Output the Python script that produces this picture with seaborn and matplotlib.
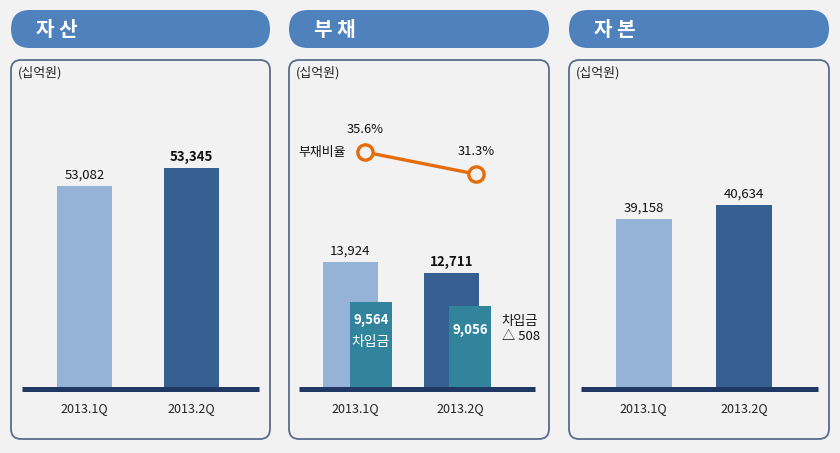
import matplotlib
matplotlib.use("Agg")
import matplotlib.pyplot as plt
from matplotlib.patches import FancyBboxPatch
import seaborn as sns

plt.rcParams['font.family'] = ['Noto Sans CJK KR', 'DejaVu Sans']

# ---------------- data ----------------
quarters = ["2013.1Q", "2013.2Q"]
assets = [53082, 53345]
debt = [13924, 12711]
borrowings = [9564, 9056]
debt_ratio = [35.6, 31.3]
equity = [39158, 40634]
titles = ["자 산", "부 채", "자 본"]
unit = "(십억원)"
ratio_name = "부채비율"
borrow_name = "차입금"

# ---------------- styles ----------------
BG = "#f2f2f2"
LIGHT = "#95b3d7"
DARK = "#366092"
TEAL = "#31849b"
BASE = "#1f3864"
HEAD = "#4f81bd"
BORDER = "#5b6b8c"
ORANGE = "#e46c0a"

W, H = 840, 453
fig = plt.figure(figsize=(W / 100, H / 100), dpi=100, facecolor=BG)

bg = fig.add_axes([0, 0, 1, 1], zorder=0)
bg.set_xlim(0, W)
bg.set_ylim(H, 0)
bg.axis("off")
bg.set_facecolor(BG)

panels = [(11, 270), (289, 549), (569, 829)]
for (l, r), t in zip(panels, titles):
    bg.add_patch(FancyBboxPatch((l, 10), r - l, 38,
                                boxstyle="round,pad=0,rounding_size=19",
                                fc=HEAD, ec="none"))
    bg.text(l + 25, 29.5, t, color="white", fontsize=14.5, fontweight="bold",
            ha="left", va="center")
    bg.add_patch(FancyBboxPatch((l, 60), r - l, 379,
                                boxstyle="round,pad=0,rounding_size=10",
                                fc=BG, ec=BORDER, lw=1.3))
    bg.text(l + 7, 73, unit, fontsize=9.3, ha="left", va="center", color="#222222")


def px(l, t, r, b):
    return [l / W, 1 - b / H, (r - l) / W, (b - t) / H]


def clean(ax):
    ax.set_facecolor("none")
    for s in ax.spines.values():
        s.set_visible(False)
    ax.set_ylabel("")
    ax.set_xlabel("")
    ax.set_yticks([])


def baseline(ax):
    ax.axhline(ax.get_ylim()[0], color=BASE, lw=3.6, clip_on=False, zorder=5,
               solid_capstyle="butt")


def xticks(ax):
    ax.tick_params(axis="x", length=0, pad=10, labelsize=9, labelcolor="#222222")


# ---------------- 자산 ----------------
ax1 = fig.add_axes(px(22, 100, 259, 388.5), zorder=2)
sns.barplot(x=quarters, y=assets, hue=quarters, palette=[LIGHT, DARK],
            width=0.514, saturation=1, legend=False, ax=ax1)
ax1.set_xlim(-0.584, 1.631)
ax1.set_ylim(50130, 54339)
clean(ax1)
xticks(ax1)
baseline(ax1)
for i, c in enumerate(ax1.containers):
    txts = ax1.bar_label(c, labels=[f"{assets[i]:,}"], padding=3, fontsize=9.5,
                         color="#111111")
    if i == 1:
        for tt in txts:
            tt.set_fontweight("bold")

# ---------------- 부채 ----------------
ax2 = fig.add_axes(px(299, 100, 535, 388.5), zorder=2)
sns.barplot(x=quarters, y=debt, hue=quarters, palette=[LIGHT, DARK],
            width=0.542, saturation=1, legend=False, ax=ax2)
ax2.set_xlim(-0.507, 1.818)
ax2.set_ylim(0, 31826)
clean(ax2)
ax2.set_xticks([0.05, 1.08])
ax2.set_xticklabels(quarters)
xticks(ax2)
for i, c in enumerate(ax2.containers):
    txts = ax2.bar_label(c, labels=[f"{debt[i]:,}"], padding=3, fontsize=9.5,
                         color="#111111")
    if i == 1:
        for tt in txts:
            tt.set_fontweight("bold")

ax2b = fig.add_axes(px(299, 100, 535, 388.5), zorder=3)
sns.barplot(x=quarters, y=borrowings, color=TEAL, width=0.424, saturation=1, ax=ax2b)
ax2b.set_xlim(-0.727, 1.657)
ax2b.set_ylim(0, 31826)
clean(ax2b)
ax2b.set_xticks([])
baseline(ax2b)
ax2b.annotate(f"{borrowings[0]:,}", (0, borrowings[0]), xytext=(0, -13),
              textcoords="offset points", ha="center", va="center",
              color="white", fontsize=9.5, fontweight="bold")
ax2b.annotate(f"{borrowings[1]:,}", (1, borrowings[1]), xytext=(0, -17),
              textcoords="offset points", ha="center", va="center",
              color="white", fontsize=9.5, fontweight="bold")
ax2b.annotate(borrow_name, (0, borrowings[0]), xytext=(0, -29),
              textcoords="offset points", ha="center", va="center",
              color="white", fontsize=10)
ax2b.annotate(f"{borrow_name}\n△ {borrowings[0] - borrowings[1]}",
              (1, borrowings[1]), xytext=(23, -16), textcoords="offset points",
              ha="left", va="center", color="#111111", fontsize=9.5,
              linespacing=1.2)

ax2c = fig.add_axes(px(298, 100, 535, 388.5), zorder=4)
sns.lineplot(x=[0, 1], y=debt_ratio, color=ORANGE, lw=2.4, marker="o",
             markersize=11, markerfacecolor=BG, markeredgecolor=ORANGE,
             markeredgewidth=2.4, ax=ax2c)
ax2c.set_xlim(-0.6036, 1.531)
ax2c.set_ylim(-10.53, 45.76)
clean(ax2c)
ax2c.set_xticks([])
for i, v in enumerate(debt_ratio):
    ax2c.annotate(f"{v}%", (i, v), xytext=(0, 16), textcoords="offset points",
                  ha="center", va="center", fontsize=9.3, color="#111111")
ax2c.annotate(ratio_name, (0, debt_ratio[0]), xytext=(-14, 0),
              textcoords="offset points", ha="right", va="center",
              fontsize=9.3, color="#111111")

# ---------------- 자본 ----------------
ax3 = fig.add_axes(px(581, 100, 818, 388.5), zorder=2)
sns.barplot(x=quarters, y=equity, hue=quarters, palette=[LIGHT, DARK],
            width=0.557, saturation=1, legend=False, ax=ax3)
ax3.set_xlim(-0.624, 1.734)
ax3.set_ylim(21714, 51441)
clean(ax3)
xticks(ax3)
baseline(ax3)
for i, c in enumerate(ax3.containers):
    ax3.bar_label(c, labels=[f"{equity[i]:,}"], padding=3, fontsize=9.5,
                  color="#111111")

fig.savefig("out.png", dpi=100, facecolor=BG)
